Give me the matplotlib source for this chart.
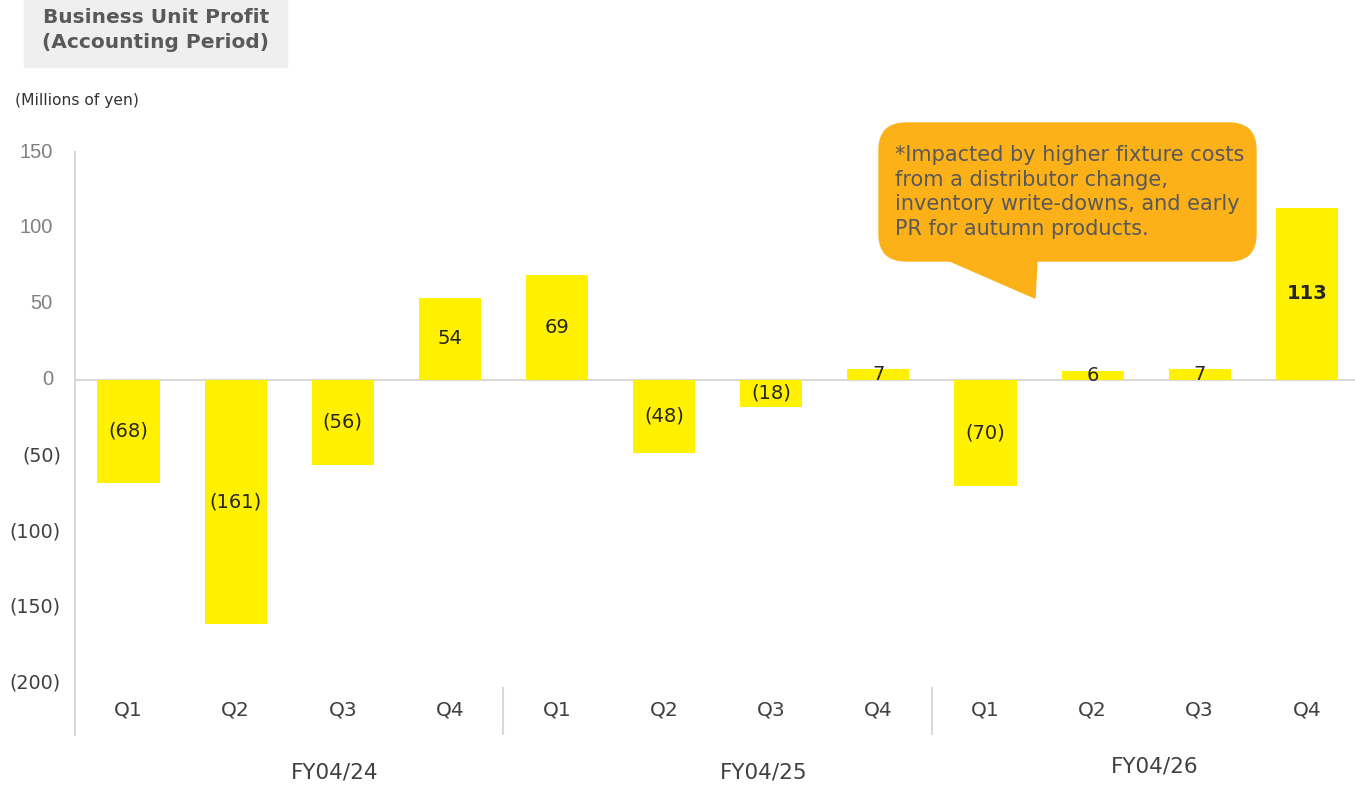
import matplotlib.pyplot as plt
from matplotlib.patches import FancyBboxPatch, Polygon, Rectangle

# quarterly business unit profit, millions of yen
quarters = ["Q1", "Q2", "Q3", "Q4"] * 3
profit = [-68, -161, -56, 54, 69, -48, -18, 7, -70, 6, 7, 113]
years = ["FY04/24", "FY04/25", "FY04/26"]
yticks = [150, 100, 50, 0, -50, -100, -150, -200]

W, H = 1355, 785
fig = plt.figure(figsize=(W / 100, H / 100), dpi=100)


def px(x, y):
    # pixel position (from top-left) -> figure fraction
    return x / W, 1 - y / H


ax = fig.add_axes([75 / W, 1 - 735 / H, (1355 - 75) / W, (735 - 152) / H])
x = list(range(len(profit)))
ax.bar(x, profit, width=0.58, color="#FFF100", zorder=2)
ax.set_xlim(-0.5, 11.45)
ax.set_ylim(-234, 150)

for s in ["top", "right", "bottom"]:
    ax.spines[s].set_visible(False)
ax.spines["left"].set_color("#d9d9d9")
ax.spines["left"].set_linewidth(1.5)
ax.axhline(0, color="#d9d9d9", lw=1.5, zorder=1)
ax.set_xticks([])
ax.set_yticks([])

# y labels: positives plain grey, negatives in parentheses
yt = ax.get_yaxis_transform()
for v in yticks:
    if v >= 0:
        ax.text(-0.0172, v, str(v), transform=yt, ha="right", va="center",
                fontsize=14.5, color="#808080", family="Liberation Sans")
    else:
        ax.text(-0.011, v, "(%d)" % -v, transform=yt, ha="right", va="center",
                fontsize=13.8, color="#404040")

# value labels inside bars
for i, v in enumerate(profit):
    txt = str(v) if v >= 0 else "(%d)" % -v
    ax.text(i, v / 2, txt, ha="center", va="center", fontsize=14,
            color="#262626", fontweight="bold" if v == max(profit) else "normal",
            zorder=3)

# quarter labels and fiscal-year separators
xt = ax.get_xaxis_transform()
for i, q in enumerate(quarters):
    ax.text(i, 0.043, q, transform=xt, ha="center", va="center",
            fontsize=14.5, color="#404040")
for sep in [3.5, 7.5]:
    ax.plot([sep, sep], [0, 0.08], transform=xt, color="#d9d9d9", lw=1.5)

for name, cx, cy in zip(years, [1.93, 5.94, 9.59], [772, 772, 767]):
    fig.text((75 + (cx + 0.5) * 107) / W, 1 - cy / H, name, ha="center",
             va="center", fontsize=15.5, color="#404040")

# title box
fig.patches.append(Rectangle(px(24, 67), 263 / W, 67 / H, color="#efefef",
                             transform=fig.transFigure, zorder=0))
fig.text(*px(156, 30), "Business Unit Profit\n(Accounting Period)", ha="center",
         va="center", fontsize=14.5, fontweight="bold", color="#595959",
         linespacing=1.4)
fig.text(*px(15, 101), "(Millions of yen)", ha="left", va="center",
         fontsize=11.2, color="#333333")

# callout bubble
orange = "#FBB117"
fig.patches.append(FancyBboxPatch(px(879, 261), (1256 - 879) / W, (261 - 123) / H,
                                  boxstyle="round,pad=0,rounding_size=0.02",
                                  mutation_aspect=W / H,
                                  transform=fig.transFigure, color=orange, zorder=5))
fig.patches.append(Polygon([px(943, 258), px(1037, 258), px(1035, 298)],
                           closed=True, transform=fig.transFigure, color=orange,
                           zorder=5))
fig.text(*px(895, 192),
         "*Impacted by higher fixture costs\nfrom a distributor change,\n"
         "inventory write-downs, and early\nPR for autumn products.",
         ha="left", va="center", fontsize=15, color="#595959",
         linespacing=1.31, zorder=6)

fig.savefig("out.png", dpi=100)
